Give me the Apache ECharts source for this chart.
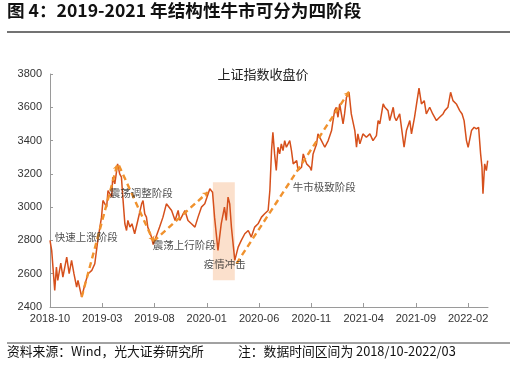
<!DOCTYPE html>
<html>
<head>
<meta charset="utf-8">
<script src="https://cdn.jsdelivr.net/npm/echarts@6/dist/echarts.min.js"></script>
<style>
html,body{margin:0;padding:0;background:#fff;}
#c{width:516px;height:365px;}
</style>
</head>
<body>
<div id="c"></div>
<script>
// ---- data ----
const dates = [
'2018-10-01','2018-10-06','2018-10-15','2018-10-20','2018-10-24','2018-11-02','2018-11-08','2018-11-19','2018-11-26','2018-12-03',
'2018-12-10','2018-12-18','2018-12-22','2019-01-02','2019-01-12','2019-01-21','2019-02-01','2019-02-09','2019-02-17','2019-02-27',
'2019-03-03','2019-03-14','2019-03-18','2019-03-29','2019-04-01','2019-04-07','2019-04-15','2019-04-21','2019-04-26','2019-04-30',
'2019-05-06','2019-05-11','2019-05-15','2019-05-21','2019-05-27','2019-06-04','2019-06-13','2019-06-24','2019-06-28','2019-07-03',
'2019-07-08','2019-07-12','2019-07-23','2019-07-28','2019-08-07','2019-08-16','2019-08-26','2019-09-05','2019-09-10','2019-09-20',
'2019-09-30','2019-10-09','2019-10-14','2019-10-24','2019-10-29','2019-11-07','2019-11-17','2019-11-27','2019-12-06','2019-12-16',
'2019-12-26','2020-01-05','2020-01-10','2020-01-18','2020-01-24','2020-02-03','2020-02-12','2020-02-21','2020-02-26','2020-03-02',
'2020-03-07','2020-03-12','2020-03-22','2020-04-01','2020-04-10','2020-04-20','2020-04-30','2020-05-09','2020-05-19','2020-05-29',
'2020-06-08','2020-06-17','2020-06-27','2020-07-02','2020-07-07','2020-07-11','2020-07-16','2020-07-21','2020-07-26','2020-07-31',
'2020-08-05','2020-08-10','2020-08-15','2020-08-20','2020-08-30','2020-09-04','2020-09-09','2020-09-19','2020-09-23','2020-10-03',
'2020-10-08','2020-10-18','2020-10-28','2020-11-01','2020-11-06','2020-11-16','2020-11-20','2020-11-30','2020-12-10','2020-12-20',
'2020-12-30','2021-01-08','2021-01-13','2021-01-18','2021-01-23','2021-01-28','2021-02-02','2021-02-06','2021-02-11','2021-02-18',
'2021-02-24','2021-03-06','2021-03-11','2021-03-15','2021-03-21','2021-03-30','2021-04-09','2021-04-19','2021-04-28','2021-05-08',
'2021-05-13','2021-05-18','2021-05-28','2021-06-02','2021-06-11','2021-06-16','2021-06-21','2021-06-26','2021-06-30','2021-07-05',
'2021-07-15','2021-07-20','2021-07-28','2021-08-04','2021-08-14','2021-08-19','2021-08-28','2021-09-03','2021-09-10','2021-09-17',
'2021-09-25','2021-10-01','2021-10-11','2021-10-20','2021-10-31','2021-11-09','2021-11-19','2021-11-24','2021-12-03','2021-12-11',
'2021-12-18','2021-12-28','2022-01-07','2022-01-14','2022-01-20','2022-01-27','2022-02-01','2022-02-10','2022-02-17','2022-02-23',
'2022-03-01','2022-03-07','2022-03-11','2022-03-14','2022-03-19','2022-03-24','2022-03-28'
];
const closes = [
2800,2740,2500,2640,2560,2663,2580,2700,2600,2680,
2600,2520,2560,2460,2540,2600,2620,2660,2800,2940,
3040,3000,3100,3060,3180,3140,3260,3200,3180,3060,
2900,2860,2920,2880,2900,2840,2920,3020,3040,2960,
2940,2880,2820,2775,2830,2880,2940,3020,3030,2980,
2920,2980,2920,2960,2980,2920,2900,2880,2940,3000,
3020,3080,3110,3090,2940,2740,2900,3000,2920,3060,
3020,2880,2680,2760,2800,2840,2860,2820,2880,2900,
2940,2960,2980,3100,3340,3450,3320,3220,3360,3320,
3380,3340,3400,3360,3400,3340,3260,3280,3220,3240,
3320,3260,3240,3220,3320,3380,3440,3400,3360,3400,
3460,3580,3600,3540,3620,3560,3500,3560,3660,3690,
3560,3460,3360,3440,3380,3440,3420,3440,3400,3430,
3520,3500,3620,3600,3580,3520,3560,3600,3540,3520,
3560,3570,3360,3460,3520,3440,3540,3620,3715,3620,
3640,3560,3600,3560,3520,3540,3560,3580,3600,3690,
3640,3620,3580,3560,3520,3400,3360,3460,3480,3470,
3480,3320,3240,3080,3260,3220,3280
];
const yTicks = [2400, 2600, 2800, 3000, 3200, 3400, 3600, 3800];
// stage arrows: [startDate, startValue, endDate, endValue]
const stageArrows = [
  ['2019-01-02', 2460, '2019-04-14', 3255],
  ['2019-04-19', 3250, '2019-07-29', 2795],
  ['2019-07-29', 2795, '2020-01-04', 3090],
  ['2020-03-27', 2661, '2021-02-18', 3694]
];
// stage labels: [date, value, text]
const stageLabels = [
  ['2018-10-15', 2821, '快速上涨阶段'],
  ['2019-03-23', 3084, '震荡调整阶段'],
  ['2019-07-27', 2771, '震荡上行阶段'],
  ['2019-12-23', 2657, '疫情冲击'],
  ['2020-09-08', 3119, '牛市极致阶段']
];
// covid shock band: [fromDate, toDate, low, high]
const covidBand = ['2020-01-19', '2020-03-22', 2560, 3150];

// ---- helpers ----
function toM(s){
  const p = s.split('-').map(Number);
  const dim = new Date(p[0], p[1], 0).getDate();
  return (p[0]-2018)*12 + (p[1]-10) + (p[2]-1)/dim;
}
function mLabel(v){
  const t = Math.round(v) + 9;
  const y = 2018 + Math.floor(t/12);
  const m = (t % 12) + 1;
  return y + '-' + (m < 10 ? '0' + m : m);
}

const FONT = '"Liberation Sans","Noto Sans CJK SC",sans-serif';
const CJK = '"Noto Sans CJK SC","Liberation Sans",sans-serif';
const lineData = dates.map((d,i)=>[toM(d), closes[i]]);

const chart = echarts.init(document.getElementById('c'), null, {renderer:'canvas'});
chart.setOption({
  animation:false,
  backgroundColor:'#fff',
  title:{
    text:'上证指数收盘价', left:258, top:63, textAlign:'center',
    textStyle:{fontFamily:CJK, fontSize:13, fontWeight:'normal', color:'#222'}
  },
  grid:{left:50, right:28, top:74, bottom:58},
  xAxis:{
    type:'value', min:0, max:41.9, interval:5,
    axisLine:{lineStyle:{color:'#9a9a9a', width:1}},
    axisTick:{inside:true, length:4, lineStyle:{color:'#9a9a9a'}},
    axisLabel:{formatter:mLabel, showMaxLabel:false, color:'#333', fontSize:11, fontFamily:FONT, margin:6},
    splitLine:{show:false}
  },
  yAxis:{
    type:'value', min:yTicks[0], max:yTicks[yTicks.length-1], interval:200,
    axisLine:{show:true, lineStyle:{color:'#9a9a9a', width:1}},
    axisTick:{show:true, inside:true, length:3, lineStyle:{color:'#9a9a9a'}},
    axisLabel:{formatter:v=>String(v), color:'#333', fontSize:11, fontFamily:FONT, margin:8},
    splitLine:{show:false}
  },
  series:[
    {
      type:'line', data:lineData, showSymbol:false, symbol:'none',
      lineStyle:{color:'#d6501c', width:1.5},
      z:3,
      markArea:{
        silent:true,
        itemStyle:{color:'#fbe0cc'},
        data:[[{coord:[toM(covidBand[0]), covidBand[3]]},{coord:[toM(covidBand[1]), covidBand[2]]}]]
      }
    },
    {
      type:'lines', coordinateSystem:'cartesian2d', z:4,
      symbol:['none','arrow'], symbolSize:5,
      lineStyle:{color:'#f0922e', width:2.4, type:[6,4], opacity:1},
      data: stageArrows.map(a=>({coords:[[toM(a[0]),a[1]],[toM(a[2]),a[3]]]}))
    },
    {
      type:'scatter', symbolSize:0, z:5, silent:true,
      data: stageLabels.map(l=>({value:[toM(l[0]), l[1]], name:l[2]})),
      label:{show:true, position:'right', distance:0, formatter:p=>p.name,
        color:'#222', fontSize:10.5, fontFamily:CJK}
    }
  ],
  graphic:[
    {type:'text', left:7, top:2, style:{text:'图 4：2019-2021 年结构性牛市可分为四阶段', font:'bold 17.6px "Noto Sans CJK SC"', fill:'#111'}},
    {type:'line', shape:{x1:7, y1:32, x2:510, y2:32}, style:{stroke:'#444', lineWidth:1.5}},
    {type:'line', shape:{x1:7, y1:343, x2:510, y2:343}, style:{stroke:'#444', lineWidth:1}},
    {type:'text', left:7, top:345, style:{text:'资料来源：Wind，光大证券研究所', font:'12.8px "Noto Sans CJK SC"', fill:'#111'}},
    {type:'text', left:238, top:345, style:{text:'注：数据时间区间为 2018/10-2022/03', font:'12.8px "Noto Sans CJK SC"', fill:'#111'}}
  ]
});
</script>
</body>
</html>
